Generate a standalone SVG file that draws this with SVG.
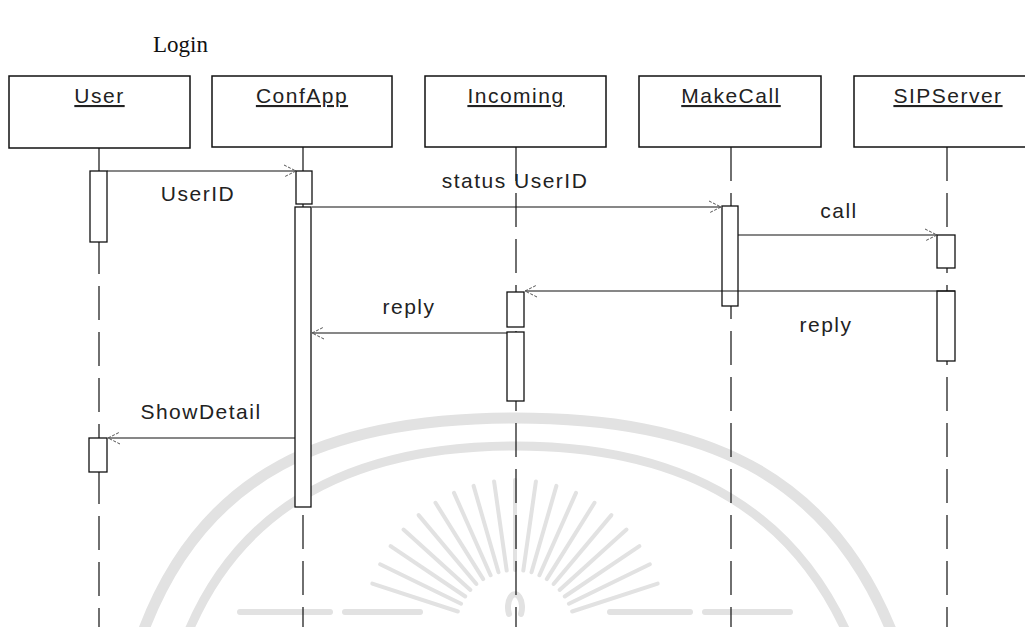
<svg xmlns="http://www.w3.org/2000/svg" width="1025" height="627" viewBox="0 0 1025 627">
<style>
.box{fill:#fff;stroke:#111;stroke-width:1.5}
.lbl{font-family:"Liberation Sans",Arial,sans-serif;font-size:21px;letter-spacing:1.5px;fill:#222;text-anchor:middle}
.hdr{text-decoration:underline}
.life{stroke:#111;stroke-width:1.2;stroke-dasharray:34 12;fill:none}
.act{fill:#fff;stroke:#111;stroke-width:1.3}
.msg{stroke:#111;stroke-width:1.2;fill:none;marker-end:url(#arr)}
.wm{fill:none;stroke:#e2e2e2}
</style>
<defs>
<marker id="arr" markerWidth="16" markerHeight="14" refX="13" refY="7" orient="auto" markerUnits="userSpaceOnUse">
<path d="M1 1 L13 7 L1 13" fill="none" stroke="#555" stroke-width="1" stroke-dasharray="3 1.5"/>
</marker>
</defs>
<rect width="1025" height="627" fill="#fff"/>
<g id="watermark">
<path class="wm" stroke-width="11" d="M140 640 C 200 470, 330 418, 515 418 C 700 418, 830 470, 895 640"/>
<path class="wm" stroke-width="9" d="M185 640 C 240 500, 360 446, 515 446 C 670 446, 790 500, 850 640"/>
<g class="wm" stroke-width="4" stroke-linecap="round">
<path d="M515 570 L515 480"/>
<path d="M523.3 570.6 L535.9 481.5"/><path d="M506.7 570.6 L494.1 481.5"/>
<path d="M531.5 572.3 L556.4 485.9"/><path d="M498.5 572.3 L473.6 485.9"/>
<path d="M539.4 575.2 L576 492.9"/><path d="M490.6 575.2 L454 492.9"/>
<path d="M546.8 579.1 L594.5 502.8"/><path d="M483.2 579.1 L435.5 502.8"/>
<path d="M553.6 584 L611.4 515.1"/><path d="M476.4 584 L418.6 515.1"/>
<path d="M559.6 589.9 L626.5 529.6"/><path d="M470.4 589.9 L403.5 529.6"/>
<path d="M564.7 596.5 L639.4 546.1"/><path d="M465.3 596.5 L390.6 546.1"/>
<path d="M568.9 603.7 L649.9 564.3"/><path d="M461.1 603.7 L380.1 564.3"/>
<path d="M572.1 611.5 L657.7 583.6"/><path d="M457.9 611.5 L372.3 583.6"/>
</g>
<g class="wm" stroke-width="6" stroke-linecap="round">
<path d="M240 612 L330 612"/><path d="M345 612 L420 612"/><path d="M610 612 L690 612"/><path d="M705 612 L790 612"/>
<path d="M509 614 a7 13 0 1 1 12 0"/>
</g>
</g>
<text x="153" y="52" font-family="Liberation Serif,Times New Roman,serif" font-size="23" fill="#111">Login</text>
<g id="lifelines">
<line class="life" x1="99" y1="148" x2="99" y2="627"/>
<line class="life" x1="303" y1="147" x2="303" y2="627"/>
<line class="life" x1="516" y1="147" x2="516" y2="627"/>
<line class="life" x1="731" y1="147" x2="731" y2="627"/>
<line class="life" x1="947" y1="147" x2="947" y2="627"/>
</g>
<g id="User"><rect class="box" x="9" y="76" width="181" height="72"/><text class="lbl hdr" x="99.5" y="103">User</text></g>
<g id="ConfApp"><rect class="box" x="212" y="76" width="180" height="71"/><text class="lbl hdr" x="302" y="103">ConfApp</text></g>
<g id="Incoming"><rect class="box" x="425" y="76" width="181" height="71"/><text class="lbl hdr" x="516" y="103">Incoming</text></g>
<g id="MakeCall"><rect class="box" x="639" y="76" width="182" height="71"/><text class="lbl hdr" x="731" y="103">MakeCall</text></g>
<g id="SIPServer"><rect class="box" x="854" y="76" width="186" height="71"/><text class="lbl hdr" x="948" y="103">SIPServer</text></g>
<g id="activations">
<rect class="act" x="90" y="171" width="17" height="71"/>
<rect class="act" x="89" y="438" width="18" height="34"/>
<rect class="act" x="296" y="171" width="16" height="33"/>
<rect class="act" x="295" y="207" width="16" height="300"/>
<rect class="act" x="507" y="292" width="17" height="35"/>
<rect class="act" x="507" y="332" width="17" height="69"/>
<rect class="act" x="722" y="206" width="16" height="100"/>
<rect class="act" x="937" y="235" width="18" height="33"/>
<rect class="act" x="937" y="291" width="18" height="70"/>
</g>
<g id="connectors">
<line class="msg" x1="107" y1="171" x2="296" y2="171"/>
<line class="msg" x1="312" y1="207" x2="721" y2="207"/>
<line class="msg" x1="738" y1="235" x2="937" y2="235"/>
<line class="msg" x1="955" y1="291" x2="525" y2="291"/>
<line class="msg" x1="507" y1="333" x2="312" y2="333"/>
<line class="msg" x1="295" y1="438" x2="108" y2="438"/>
</g>
<g id="labels">
<text class="lbl" x="198" y="201">UserID</text>
<text class="lbl" x="515" y="188">status UserID</text>
<text class="lbl" x="839" y="218">call</text>
<text class="lbl" x="409" y="314">reply</text>
<text class="lbl" x="826" y="332">reply</text>
<text class="lbl" x="201" y="419">ShowDetail</text>
</g>
</svg>
